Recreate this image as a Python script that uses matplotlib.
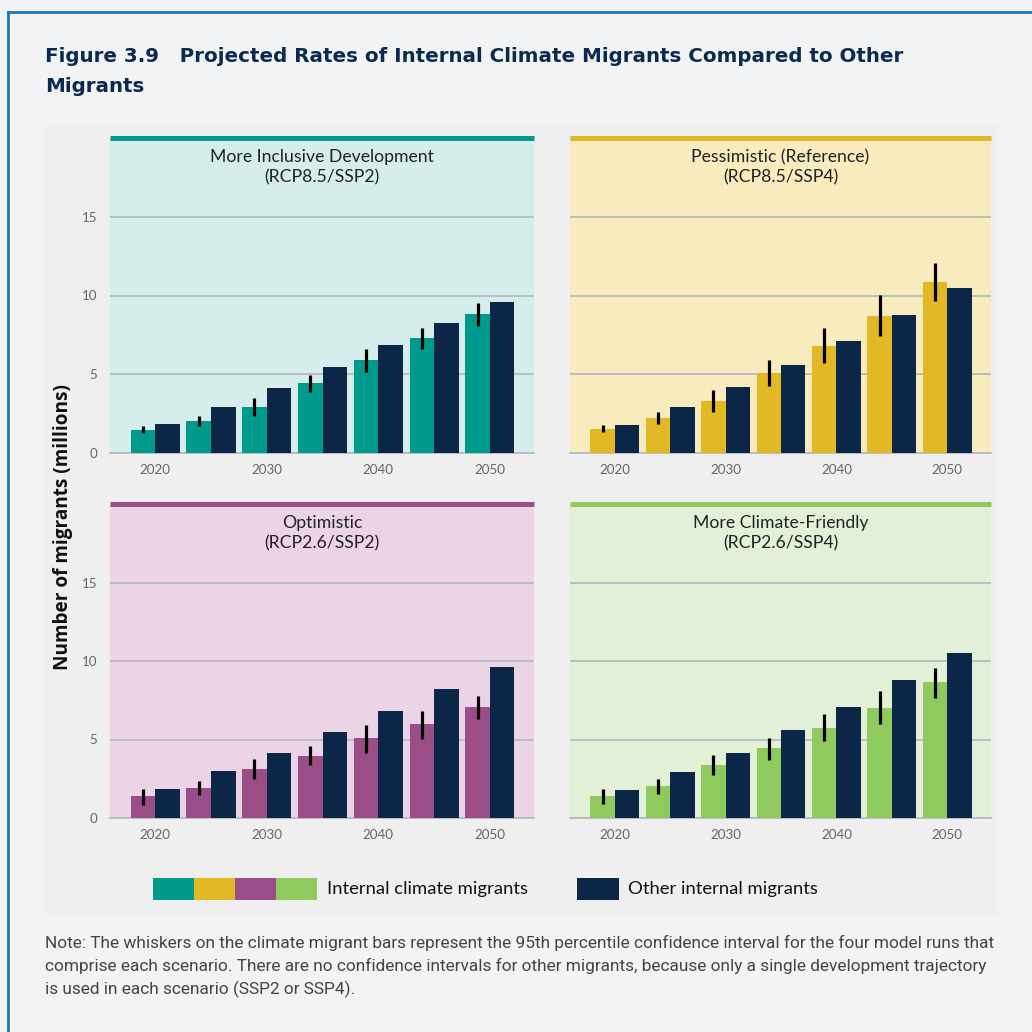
import matplotlib
matplotlib.use("Agg")
import matplotlib.pyplot as plt
from matplotlib.patches import Rectangle
import numpy as np

years = [2020, 2025, 2030, 2035, 2040, 2045, 2050]
year_ticks = ["2020", "2030", "2040", "2050"]

titles = ["More Inclusive Development\n(RCP8.5/SSP2)",
          "Pessimistic (Reference)\n(RCP8.5/SSP4)",
          "Optimistic\n(RCP2.6/SSP2)",
          "More Climate-Friendly\n(RCP2.6/SSP4)"]

# climate migrants (millions), with whisker ranges
inclusive_climate = [1.46, 2.01, 2.90, 4.44, 5.90, 7.30, 8.82]
inclusive_lo = [1.27, 1.69, 2.33, 3.89, 5.14, 6.62, 8.08]
inclusive_hi = [1.73, 2.33, 3.47, 4.95, 6.60, 7.91, 9.54]
inclusive_other = [1.86, 2.94, 4.15, 5.46, 6.83, 8.23, 9.58]

pessimistic_climate = [1.54, 2.22, 3.30, 5.08, 6.81, 8.67, 10.85]
pessimistic_lo = [1.35, 1.86, 2.58, 4.23, 5.71, 7.45, 9.63]
pessimistic_hi = [1.78, 2.58, 3.98, 5.92, 7.91, 10.01, 12.06]
pessimistic_other = [1.76, 2.92, 4.19, 5.61, 7.13, 8.78, 10.47]

optimistic_climate = [1.38, 1.91, 3.11, 3.98, 5.08, 5.97, 7.10]
optimistic_lo = [0.85, 1.46, 2.51, 3.35, 4.17, 5.04, 6.32]
optimistic_hi = [1.86, 2.35, 3.75, 4.60, 5.91, 6.84, 7.78]
optimistic_other = [1.84, 2.97, 4.13, 5.47, 6.84, 8.22, 9.60]

friendly_climate = [1.38, 2.01, 3.39, 4.43, 5.76, 7.03, 8.67]
friendly_lo = [0.89, 1.55, 2.73, 3.71, 4.89, 5.97, 7.65]
friendly_hi = [1.84, 2.48, 4.00, 5.10, 6.65, 8.07, 9.54]
friendly_other = [1.78, 2.92, 4.17, 5.61, 7.10, 8.77, 10.51]

bar_colors = ["#009a8c", "#e2b825", "#9b4d87", "#8fca5f"]
bg_colors = ["#d6eeeb", "#f8ebbe", "#ecd4e7", "#e3f0d8"]
navy = "#0c2647"

scenarios = [
    (inclusive_climate, inclusive_lo, inclusive_hi, inclusive_other),
    (pessimistic_climate, pessimistic_lo, pessimistic_hi, pessimistic_other),
    (optimistic_climate, optimistic_lo, optimistic_hi, optimistic_other),
    (friendly_climate, friendly_lo, friendly_hi, friendly_other),
]

W = 1032.0
fig = plt.figure(figsize=(10.32, 10.32), dpi=100, facecolor="#f2f3f5")

# outer frame (left and top edges) and inner grey panel
fig.lines.append(plt.Line2D([8 / W, 8 / W], [0, 1 - 12 / W], transform=fig.transFigure,
                            color="#1f73b7", lw=2))
fig.lines.append(plt.Line2D([8 / W, 1], [1 - 12 / W, 1 - 12 / W], transform=fig.transFigure,
                            color="#1f73b7", lw=2))
fig.patches.append(Rectangle((44 / W, 1 - 915 / W), (997 - 44) / W, (915 - 125) / W,
                             transform=fig.transFigure, facecolor="#efefef",
                             edgecolor="none", zorder=-5))

fig.text(45 / W, 1 - 57 / W, "Figure 3.9   Projected Rates of Internal Climate Migrants Compared to Other",
         fontsize=14.3, fontweight="bold", color="#0c2a4d", va="center", ha="left")
fig.text(45 / W, 1 - 86 / W, "Migrants",
         fontsize=14.3, fontweight="bold", color="#0c2a4d", va="center", ha="left")

# axes boxes: left, bottom, width, height in pixels
boxes = [(110, 453, 424, 315), (570, 453, 421, 315),
         (110, 818, 424, 314), (570, 818, 421, 314)]

x = np.arange(len(years))
bw = 0.44
for i, (clim, lo, hi, other) in enumerate(scenarios):
    l, b, w, h = boxes[i]
    ax = fig.add_axes([l / W, 1 - b / W, w / W, h / W])
    ax.set_facecolor(bg_colors[i])
    ax.bar(x - bw / 2, clim, bw, color=bar_colors[i], zorder=3)
    ax.bar(x + bw / 2, other, bw, color=navy, zorder=3)
    ax.vlines(x - bw / 2, lo, hi, color="black", lw=2.3, zorder=4)
    ax.set_xlim(-0.81, 6.79)
    ax.set_ylim(0, 20)
    ax.set_yticks([0, 5, 10, 15])
    ax.grid(axis="y", color="#b6babf", lw=1.3, zorder=1)
    ax.set_axisbelow(True)
    ax.set_xticks([0, 2, 4, 6])
    ax.set_xticklabels(year_ticks)
    ax.tick_params(length=0, labelsize=9.6, labelcolor="#666666", pad=8)
    for lab in ax.get_xticklabels() + ax.get_yticklabels():
        lab.set_family("Lato")
    if i % 2 == 1:
        ax.set_yticklabels([])
    else:
        ax.tick_params(axis="y", pad=9)
    for s in ["left", "right"]:
        ax.spines[s].set_visible(False)
    ax.spines["bottom"].set_color("#b6babf")
    ax.spines["bottom"].set_linewidth(1.3)
    ax.spines["top"].set_color(bar_colors[i])
    ax.spines["top"].set_linewidth(3.6)
    ax.spines["top"].set_capstyle("butt")
    ax.text(0.5, 0.965, titles[i], transform=ax.transAxes, ha="center", va="top",
            fontsize=12.7, family="Lato", color="#222222", linespacing=1.3)

fig.text(63 / W, 1 - 527 / W, "Number of migrants (millions)", rotation=90,
         ha="center", va="center", fontsize=13.7, fontweight="bold", family="Open Sans",
         color="#111111")

# legend
for k, c in enumerate(bar_colors):
    fig.patches.append(Rectangle(((153 + 41 * k) / W, 1 - 900 / W), 41 / W, 22 / W,
                                 transform=fig.transFigure, facecolor=c, edgecolor="none"))
fig.patches.append(Rectangle((577 / W, 1 - 900 / W), 42 / W, 22 / W,
                             transform=fig.transFigure, facecolor=navy, edgecolor="none"))
fig.text(327 / W, 1 - 889 / W, "Internal climate migrants", fontsize=13.3, family="Lato",
         color="#111111", va="center")
fig.text(628 / W, 1 - 889 / W, "Other internal migrants", fontsize=13.3, family="Lato",
         color="#111111", va="center")

note = ("Note: The whiskers on the climate migrant bars represent the 95th percentile confidence interval for the four model runs that\n"
        "comprise each scenario. There are no confidence intervals for other migrants, because only a single development trajectory\n"
        "is used in each scenario (SSP2 or SSP4).")
fig.text(45 / W, 1 - 935 / W, note, fontsize=12.4, family="Roboto", color="#444444",
         va="top", ha="left", linespacing=1.5)

fig.savefig("out.png", dpi=100, facecolor=fig.get_facecolor())
